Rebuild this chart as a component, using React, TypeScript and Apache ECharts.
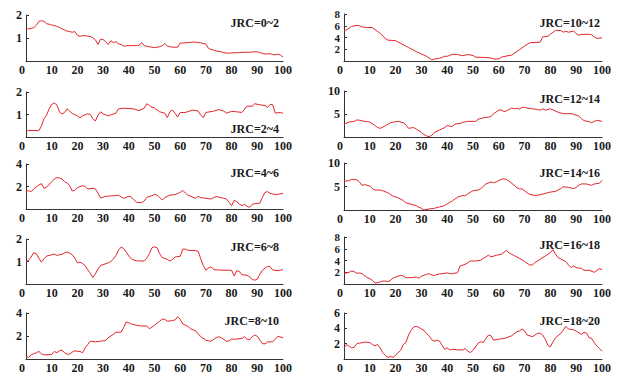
import React, { useEffect, useRef } from "react";
import * as echarts from "echarts";

// ---- data: [distance, height] ----
const jrc0_2 = [[0,1.38],[1,1.4],[2,1.42],[3,1.45],[4,1.55],[5,1.72],[6,1.75],[7,1.73],[8,1.62],[9,1.6],[10,1.56],[11,1.55],[12,1.5],[13,1.46],[14,1.4],[15,1.35],[16,1.3],[17,1.28],[18,1.25],[19,1.28],[20,1.12],[21,1.07],[22,1.1],[23,1.1],[24,1.08],[25,1.06],[26,1.01],[27,0.92],[28,0.72],[29,0.95],[30,0.93],[31,0.84],[32,0.72],[33,0.88],[34,0.8],[35,0.84],[36,0.75],[37,0.72],[38,0.64],[39,0.66],[40,0.67],[41,0.67],[42,0.67],[43,0.67],[44,0.68],[45,0.8],[46,0.66],[47,0.64],[48,0.62],[49,0.6],[50,0.58],[51,0.6],[52,0.62],[53,0.66],[54,0.76],[55,0.65],[56,0.62],[57,0.6],[58,0.6],[59,0.6],[60,0.78],[61,0.78],[62,0.79],[63,0.8],[64,0.81],[65,0.82],[66,0.82],[67,0.8],[68,0.79],[69,0.76],[70,0.74],[71,0.55],[72,0.5],[73,0.47],[74,0.44],[75,0.42],[76,0.4],[77,0.36],[78,0.35],[79,0.34],[80,0.35],[81,0.36],[82,0.36],[83,0.37],[84,0.37],[85,0.38],[86,0.38],[87,0.38],[88,0.39],[89,0.4],[90,0.4],[91,0.36],[92,0.33],[93,0.3],[94,0.31],[95,0.32],[96,0.28],[97,0.27],[98,0.3],[99,0.26],[100,0.17]];
const jrc2_4 = [[0,0.25],[1,0.29],[3,0.29],[5,0.28],[6,0.48],[7,0.82],[8,0.97],[9,1.25],[10,1.45],[11,1.51],[12,1.43],[13,1.12],[14,1.02],[15,1.09],[16,1.25],[17,1.15],[18,1.05],[20,0.94],[21,0.85],[22,0.94],[24,1.03],[25,1.0],[26,0.82],[27,0.71],[28,0.97],[29,1.12],[30,1.03],[32,0.94],[33,0.98],[35,1.06],[36,1.25],[38,1.28],[42,1.25],[44,1.17],[46,1.28],[47,1.48],[48,1.4],[49,1.32],[50,1.29],[52,1.12],[54,1.06],[55,0.86],[56,1.12],[57,1.2],[58,1.05],[59,0.89],[60,1.09],[62,1.09],[65,1.2],[67,1.15],[68,0.97],[69,0.86],[70,1.09],[73,1.15],[75,1.22],[77,1.15],[78,1.06],[80,1.14],[82,1.12],[84,1.09],[86,1.37],[88,1.37],[89,1.48],[91,1.43],[93,1.4],[94,1.31],[95,1.45],[96,1.43],[97,1.06],[99,1.09],[100,1.05]];
const jrc4_6 = [[0,1.54],[1,1.63],[2,1.54],[3,1.78],[5,2.13],[6,2.25],[7,1.84],[8,1.93],[10,2.43],[11,2.67],[12,2.79],[13,2.76],[14,2.67],[15,2.43],[16,2.31],[17,2.07],[18,1.6],[19,1.66],[20,1.9],[22,2.07],[23,2.01],[24,1.78],[26,1.84],[27,1.78],[28,1.42],[29,0.98],[31,1.13],[33,1.16],[35,1.19],[36,1.24],[37,1.07],[38,0.95],[40,1.13],[41,1.07],[43,0.59],[45,0.56],[46,0.71],[47,1.04],[49,1.19],[50,1.3],[51,1.24],[52,1.04],[53,0.8],[54,1.01],[56,1.24],[58,1.27],[60,1.48],[61,1.66],[62,1.42],[63,1.24],[65,1.04],[66,0.95],[67,1.13],[68,1.01],[70,0.95],[72,0.89],[73,1.01],[74,1.1],[76,1.01],[78,0.89],[79,0.59],[80,0.3],[81,0.77],[82,0.65],[83,0.44],[84,0.3],[85,0.41],[86,0.24],[87,0.15],[88,0.41],[89,0.47],[91,0.53],[92,1.04],[93,1.48],[94,1.54],[95,1.39],[97,1.27],[100,1.39]];
const jrc6_8 = [[0,1.0],[1,1.05],[2,1.2],[3,1.39],[4,1.35],[5,1.15],[6,0.97],[7,1.12],[8,1.24],[10,1.3],[11,1.33],[12,1.27],[13,1.3],[14,1.32],[15,1.38],[16,1.42],[17,1.38],[18,1.3],[19,1.15],[20,0.94],[21,0.97],[22,0.91],[23,0.82],[24,0.64],[25,0.48],[26,0.29],[27,0.45],[28,0.67],[29,0.82],[30,0.86],[32,0.94],[33,1.0],[34,1.12],[35,1.27],[36,1.5],[37,1.64],[38,1.58],[39,1.42],[40,1.24],[41,1.12],[42,1.06],[43,1.03],[46,1.02],[47,1.15],[48,1.35],[49,1.61],[50,1.65],[51,1.61],[52,1.35],[53,1.18],[55,1.09],[56,1.02],[57,1.09],[58,1.2],[60,1.23],[61,1.55],[62,1.55],[63,1.5],[66,1.48],[67,1.45],[68,1.12],[69,0.82],[70,0.61],[71,0.71],[72,0.77],[73,0.64],[75,0.62],[79,0.61],[80,0.61],[81,0.36],[82,0.59],[83,0.56],[84,0.41],[86,0.39],[87,0.32],[88,0.21],[89,0.17],[90,0.21],[91,0.44],[92,0.61],[94,0.79],[95,0.77],[96,0.62],[98,0.59],[100,0.64]];
const jrc8_10 = [[0,0.21],[1,0.15],[2,0.36],[3,0.45],[4,0.54],[5,0.66],[6,0.45],[7,0.36],[10,0.39],[11,0.66],[12,0.54],[13,0.72],[14,0.78],[15,0.54],[16,0.42],[17,0.42],[18,0.6],[19,0.72],[20,0.66],[21,0.66],[22,0.54],[23,0.96],[24,1.25],[25,1.55],[27,1.49],[29,1.55],[31,1.61],[32,1.85],[34,2.15],[35,2.33],[37,2.33],[38,2.75],[39,3.22],[40,3.16],[41,3.04],[43,2.93],[45,2.87],[47,2.87],[48,2.63],[50,2.93],[52,3.28],[53,3.46],[54,3.46],[55,3.28],[57,3.34],[58,3.4],[59,3.67],[60,3.46],[61,3.04],[63,2.84],[64,2.63],[66,2.45],[68,1.94],[70,1.64],[71,1.58],[72,1.55],[74,1.85],[75,1.94],[76,1.85],[78,1.55],[79,1.58],[80,1.73],[82,1.73],[84,1.79],[85,1.94],[86,1.73],[87,1.67],[88,1.94],[89,2.09],[90,1.97],[91,1.64],[92,1.34],[93,1.31],[94,1.49],[96,1.49],[97,1.73],[98,1.97],[100,1.85]];
const jrc10_12 = [[0,5.1],[1,5.33],[2,5.6],[3,5.9],[5,6.05],[6,6.0],[7,5.8],[9,5.7],[11,5.7],[12,5.35],[14,4.7],[16,3.85],[17,3.55],[19,3.5],[20,3.45],[22,3.0],[25,2.3],[28,1.6],[30,1.2],[32,0.8],[34,0.2],[35,0.33],[37,0.45],[39,0.8],[40,0.8],[42,1.15],[44,1.1],[46,0.9],[48,1.1],[50,0.95],[51,0.65],[55,0.6],[57,0.5],[58,0.35],[60,0.35],[61,0.65],[63,0.85],[65,1.0],[67,1.6],[70,2.55],[72,3.1],[74,3.15],[76,3.2],[77,4.1],[79,4.2],[80,4.55],[82,5.2],[84,5.2],[85,4.9],[86,5.05],[87,4.9],[88,5.0],[89,5.1],[90,4.65],[91,4.4],[92,4.5],[93,4.55],[95,4.55],[96,4.45],[97,4.1],[98,3.85],[100,3.95]];
const jrc12_14 = [[0,2.8],[2,3.26],[4,3.4],[5,3.71],[6,3.64],[8,3.4],[10,3.26],[12,2.5],[13,2.05],[14,1.89],[16,2.42],[18,3.1],[20,3.33],[21,3.4],[23,3.1],[24,2.65],[25,1.89],[27,2.05],[28,1.74],[30,0.98],[31,0.53],[32,0.23],[33,0.08],[34,0.38],[35,0.98],[37,1.52],[39,2.05],[40,2.5],[41,2.35],[42,2.27],[43,2.8],[45,2.95],[46,3.18],[48,3.4],[51,3.4],[52,3.86],[54,4.17],[56,4.32],[57,4.47],[58,5.08],[60,5.83],[61,5.91],[62,5.53],[63,5.68],[64,5.98],[65,6.29],[66,6.14],[67,6.21],[68,6.06],[69,6.44],[70,6.44],[71,6.29],[73,6.14],[75,5.98],[76,5.83],[77,6.14],[78,5.83],[80,6.14],[81,5.91],[83,5.38],[85,5.08],[88,5.08],[89,4.92],[91,4.55],[92,4.02],[93,3.56],[95,3.33],[96,3.1],[97,3.4],[98,3.64],[100,3.4]];
const jrc14_16 = [[0,6.1],[2,6.26],[3,6.55],[5,6.4],[6,5.97],[7,5.25],[8,5.4],[10,5.1],[11,4.53],[12,4.24],[14,4.24],[15,4.1],[17,3.67],[19,2.95],[21,2.59],[23,2.01],[24,1.51],[26,1.22],[28,0.94],[29,0.58],[30,0.36],[31,0.0],[33,0.22],[35,0.36],[37,0.65],[39,0.94],[40,1.29],[42,1.94],[44,2.73],[46,3.09],[47,3.02],[48,3.45],[50,4.1],[52,4.24],[53,4.53],[55,5.54],[57,5.97],[58,5.83],[59,5.97],[61,6.55],[62,6.62],[63,6.47],[64,6.12],[66,5.25],[67,4.75],[68,4.53],[69,4.46],[70,4.1],[71,3.67],[72,3.31],[74,3.09],[76,3.24],[78,3.53],[80,3.81],[82,3.96],[84,4.53],[85,4.96],[87,4.82],[88,4.68],[89,4.53],[90,4.82],[91,5.25],[92,5.54],[94,5.54],[95,5.4],[96,5.25],[97,5.54],[99,5.68],[100,6.33]];
const jrc16_18 = [[0,1.82],[1,1.88],[2,1.99],[3,2.22],[4,2.1],[5,1.82],[6,1.88],[7,1.76],[8,1.42],[9,1.08],[10,0.91],[11,0.63],[12,0.17],[13,0.23],[14,0.34],[15,0.51],[16,0.51],[17,0.4],[18,0.63],[19,1.02],[20,1.19],[22,1.48],[23,1.36],[24,1.08],[26,1.08],[28,1.19],[29,0.97],[30,1.31],[32,1.65],[33,1.76],[34,1.53],[35,1.42],[36,1.65],[38,1.76],[40,1.88],[41,1.76],[42,1.76],[44,1.93],[45,3.07],[47,3.35],[49,3.92],[51,3.92],[53,4.03],[54,4.38],[55,4.6],[56,4.94],[57,4.6],[59,4.89],[61,5.06],[62,5.4],[63,5.74],[64,5.28],[66,4.83],[68,4.38],[70,3.81],[72,3.24],[73,3.24],[74,3.64],[76,4.2],[78,4.77],[80,5.34],[81,5.85],[82,5.06],[83,4.49],[84,4.26],[86,3.81],[87,3.24],[88,2.78],[89,3.07],[90,2.78],[92,2.67],[93,2.33],[95,2.33],[97,1.99],[98,2.33],[99,2.61],[100,2.44]];
const jrc18_20 = [[0,1.45],[1,1.89],[2,1.67],[3,1.45],[4,1.54],[5,2.02],[6,2.07],[8,2.2],[10,2.15],[11,1.89],[12,1.71],[13,1.89],[14,1.45],[15,0.84],[16,0.48],[17,0.22],[18,0.31],[19,0.22],[20,0.48],[21,0.84],[22,1.14],[23,1.89],[24,2.15],[25,3.12],[26,3.74],[27,4.18],[28,4.26],[29,4.13],[30,3.91],[31,3.74],[32,3.3],[33,3.03],[34,2.51],[35,2.33],[36,2.46],[37,2.33],[38,1.8],[39,1.27],[40,1.45],[41,1.19],[42,1.27],[44,1.19],[46,1.19],[47,1.36],[48,1.01],[49,0.84],[50,1.14],[52,2.07],[53,2.24],[54,2.15],[55,2.68],[56,3.12],[57,3.03],[58,2.46],[60,2.59],[62,2.68],[63,2.77],[65,3.03],[67,3.56],[68,3.65],[69,3.91],[70,3.65],[71,3.12],[72,3.03],[73,2.9],[74,3.12],[75,3.34],[76,3.38],[77,3.12],[78,2.59],[79,1.8],[80,1.58],[81,2.24],[82,2.77],[84,3.34],[85,3.78],[86,4.26],[87,3.91],[89,3.82],[90,3.65],[92,3.21],[93,3.47],[94,3.38],[95,2.77],[96,2.68],[97,2.15],[98,1.71],[99,1.36],[100,1.01]];

const profiles = [jrc0_2, jrc2_4, jrc4_6, jrc6_8, jrc8_10, jrc10_12, jrc12_14, jrc14_16, jrc16_18, jrc18_20];
const panelLabels = ["JRC=0~2", "JRC=2~4", "JRC=4~6", "JRC=6~8", "JRC=8~10", "JRC=10~12", "JRC=12~14", "JRC=14~16", "JRC=16~18", "JRC=18~20"];
const yMaxes = [2, 2, 4, 2, 4, 8, 10, 10, 8, 6];
const yIntervals = [1, 1, 2, 1, 2, 2, 5, 5, 2, 2];
const xMin = 0;
const xMax = 100;
const xInterval = 10;

// ---- layout (pixels) ----
const gridBoxes = [
  { left: 26, width: 257, top: 15, height: 46 },
  { left: 26, width: 257, top: 92, height: 45 },
  { left: 26, width: 257, top: 164, height: 45 },
  { left: 26, width: 257, top: 239, height: 45 },
  { left: 26, width: 257, top: 313, height: 46 },
  { left: 344, width: 258, top: 14, height: 47 },
  { left: 344, width: 258, top: 91, height: 46 },
  { left: 344, width: 258, top: 163, height: 47 },
  { left: 344, width: 258, top: 237, height: 47 },
  { left: 344, width: 258, top: 313, height: 46 },
];
const labelPos = [
  [279, 23], [279, 129], [279, 173], [279, 247], [279, 321],
  [600, 23], [600, 99], [600, 173], [600, 245], [600, 321],
];

const FONT = '"Liberation Serif", "Times New Roman", serif';
const TEXT_COLOR = "#1a1a1a";
const LINE_COLOR = "#e3242b";
const FS = 12;

export default function App() {
  const ref = useRef<HTMLDivElement>(null);
  useEffect(() => {
    document.body.style.margin = "0";
    if (!ref.current) return;
    const chart = echarts.init(ref.current, null, { renderer: "svg" });
    const option: any = {
      animation: false,
      backgroundColor: "#fff",
      grid: gridBoxes.map((g) => ({ ...g, containLabel: false })),
      xAxis: profiles.map((_, i) => ({
        type: "value",
        gridIndex: i,
        min: xMin,
        max: xMax,
        interval: xInterval,
        axisLine: { show: true, lineStyle: { color: "#333", width: 1 } },
        axisTick: { show: false },
        splitLine: { show: false },
        axisLabel: {
          margin: 3,
          color: TEXT_COLOR,
          fontFamily: FONT,
          fontSize: FS,
          fontWeight: "bold",
          showMinLabel: true,
          showMaxLabel: true,
          hideOverlap: false,
          formatter: (v: number) => (v === 0 ? "{z|0}" : String(v)),
          rich: { z: { padding: [0, 8, 0, 0], fontFamily: FONT, fontSize: FS, fontWeight: "bold", color: TEXT_COLOR } },
        },
      })),
      yAxis: profiles.map((_, i) => {
        const spacing = (gridBoxes[i].height * yIntervals[i]) / yMaxes[i];
        const fs = spacing < 12.5 ? 11 : FS;
        return {
          type: "value",
          gridIndex: i,
          min: 0,
          max: yMaxes[i],
          interval: yIntervals[i],
          axisLine: { show: true, lineStyle: { color: "#333", width: 1 } },
          axisTick: { show: true, inside: true, length: 3, lineStyle: { color: "#333" } },
          splitLine: { show: false },
          axisLabel: {
            margin: 4,
            color: TEXT_COLOR,
            fontFamily: FONT,
            fontSize: fs,
            lineHeight: fs - 1,
            fontWeight: "bold",
            showMinLabel: true,
            showMaxLabel: true,
            hideOverlap: false,
            formatter: (v: number) => (v === 0 ? "" : String(v)),
          },
        };
      }),
      series: profiles.map((d, i) => ({
        type: "line",
        xAxisIndex: i,
        yAxisIndex: i,
        data: d,
        showSymbol: false,
        symbol: "none",
        lineStyle: { color: LINE_COLOR, width: 1 },
        silent: true,
      })),
      graphic: panelLabels.map((t, i) => ({
        type: "text",
        x: labelPos[i][0],
        y: labelPos[i][1],
        silent: true,
        style: {
          text: t,
          fill: TEXT_COLOR,
          fontFamily: FONT,
          fontSize: FS,
          fontWeight: "bold",
          align: "right",
          verticalAlign: "middle",
        },
      })),
    };
    chart.setOption(option);
    return () => chart.dispose();
  }, []);
  return <div ref={ref} style={{ width: 625, height: 386 }} />;
}
